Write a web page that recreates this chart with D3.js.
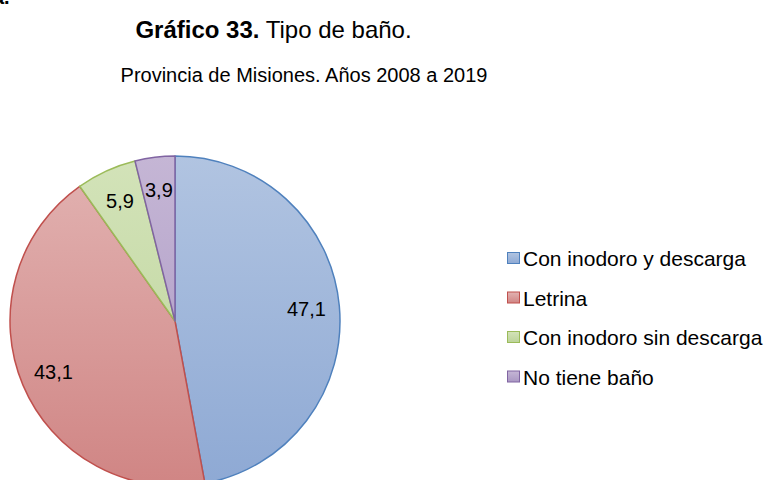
<!DOCTYPE html>
<html>
<head>
<meta charset="utf-8">
<script src="https://cdn.jsdelivr.net/npm/d3@7/dist/d3.min.js"></script>
<style>
  html, body { margin: 0; padding: 0; background: #fff; }
  svg { display: block; font-family: "Liberation Sans", Arial, Helvetica, sans-serif; }
</style>
</head>
<body>
<svg id="chart" width="768" height="480"></svg>
<script>
// Tipo de baño — Provincia de Misiones, 2008–2019 (porcentajes)
const categories = ["Con inodoro y descarga", "Letrina", "Con inodoro sin descarga", "No tiene baño"];
const values = [47.1, 43.1, 5.9, 3.9];
const valueLabels = ["47,1", "43,1", "5,9", "3,9"];

const strokeColors = ["#4f81bd", "#c0504d", "#9bbb59", "#8064a2"];
const fillTop = ["#b1c4e1", "#e2b3b2", "#d3e3b9", "#c5b6d5"];
const fillBottom = ["#8ea9d4", "#d08584", "#bcd399", "#aa97c3"];

const svg = d3.select("#chart");
const cx = 175, cy = 321, R = 165;

// Titles
svg.append("text").attr("x", -7).attr("y", 4)
  .attr("font-size", 20).attr("font-weight", "bold").attr("fill", "#000").text("a.");

const t1 = svg.append("text").attr("x", 273.5).attr("y", 38)
  .attr("text-anchor", "middle").attr("font-size", 24).attr("fill", "#000");
t1.append("tspan").attr("font-weight", "bold").text("Gráfico 33.");
t1.append("tspan").text(" Tipo de baño.");

svg.append("text").attr("x", 304).attr("y", 82)
  .attr("text-anchor", "middle").attr("font-size", 20).attr("fill", "#000")
  .text("Provincia de Misiones. Años 2008 a 2019");

// Gradients per slice (vertical, across the whole pie) and for legend keys
const defs = svg.append("defs");
categories.forEach((c, i) => {
  const g = defs.append("linearGradient").attr("id", "grad" + i)
    .attr("gradientUnits", "userSpaceOnUse")
    .attr("x1", 0).attr("y1", -R).attr("x2", 0).attr("y2", R);
  g.append("stop").attr("offset", "0%").attr("stop-color", fillTop[i]);
  g.append("stop").attr("offset", "100%").attr("stop-color", fillBottom[i]);
  const lg = defs.append("linearGradient").attr("id", "lgrad" + i)
    .attr("x1", 0).attr("y1", 0).attr("x2", 0).attr("y2", 1);
  lg.append("stop").attr("offset", "0%").attr("stop-color", fillTop[i]);
  lg.append("stop").attr("offset", "100%").attr("stop-color", fillBottom[i]);
});

const pie = d3.pie().sort(null).value(d => d).startAngle(0).endAngle(2 * Math.PI);
const arcs = pie(values);
const arc = d3.arc().innerRadius(0).outerRadius(R);
const labelArc = d3.arc().innerRadius(132).outerRadius(132);

const g = svg.append("g").attr("transform", `translate(${cx},${cy})`);
g.selectAll("path.slice").data(arcs).enter().append("path")
  .attr("class", "slice")
  .attr("d", arc)
  .attr("fill", (d, i) => `url(#grad${i})`)
  .attr("stroke", (d, i) => strokeColors[i])
  .attr("stroke-width", 1.5)
  .attr("stroke-linejoin", "round");

g.selectAll("text.lbl").data(arcs).enter().append("text")
  .attr("class", "lbl")
  .attr("transform", d => { const [x, y] = labelArc.centroid(d); return `translate(${x},${y})`; })
  .attr("text-anchor", "middle").attr("dy", "0.35em")
  .attr("font-size", 20).attr("fill", "#000")
  .text((d, i) => valueLabels[i]);

// Legend
const legend = svg.append("g").attr("transform", "translate(507,266)");
const item = legend.selectAll("g").data(categories).enter().append("g")
  .attr("transform", (d, i) => `translate(0,${i * 39.5})`);
item.append("rect").attr("x", 0.5).attr("y", -13.5).attr("width", 12).attr("height", 11)
  .attr("fill", (d, i) => `url(#lgrad${i})`)
  .attr("stroke", (d, i) => strokeColors[i]).attr("stroke-width", 1);
item.append("text").attr("x", 16).attr("y", 0)
  .attr("font-size", 21).attr("fill", "#000").text(d => d);
</script>
</body>
</html>
